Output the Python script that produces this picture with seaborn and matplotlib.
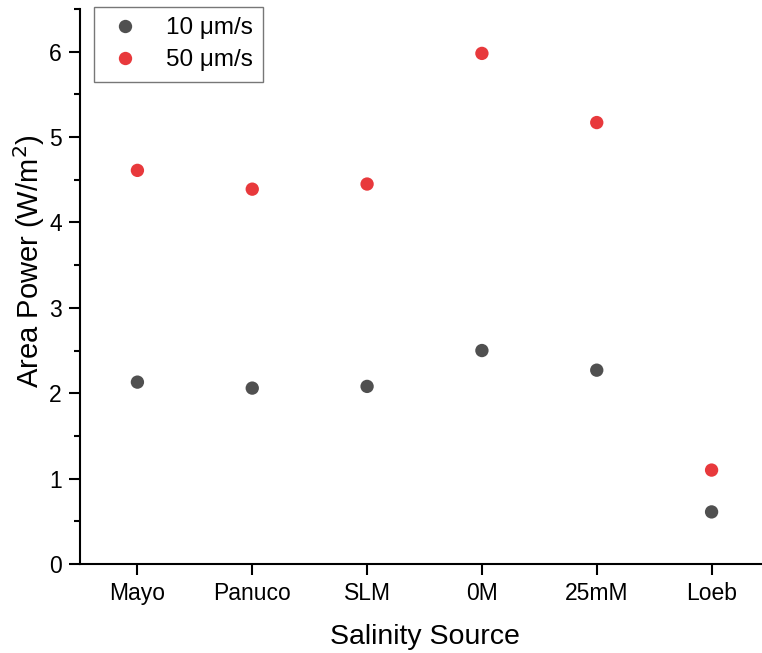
import matplotlib
matplotlib.use("Agg")
import matplotlib.pyplot as plt
from matplotlib.ticker import MultipleLocator
import seaborn as sns
import pandas as pd

# Salinity sources on the x axis
sources = ["Mayo", "Panuco", "SLM", "0M", "25mM", "Loeb"]
# Area power (W/m^2) at each flow speed
power_10 = [2.13, 2.06, 2.08, 2.50, 2.27, 0.61]
power_50 = [4.61, 4.39, 4.45, 5.98, 5.17, 1.10]
speed_labels = ["10 \u03bcm/s", "50 \u03bcm/s"]
speed_colors = ["#505050", "#e8393c"]

df = pd.DataFrame({
    "source": sources * 2,
    "power": power_10 + power_50,
    "speed": [speed_labels[0]] * len(sources) + [speed_labels[1]] * len(sources),
})

sns.set_style("ticks")
plt.rcParams["font.family"] = ["Liberation Sans", "DejaVu Sans"]
plt.rcParams["text.color"] = "black"
plt.rcParams["axes.labelcolor"] = "black"
plt.rcParams["xtick.color"] = "black"
plt.rcParams["ytick.color"] = "black"

fig = plt.figure(figsize=(7.62, 6.53), dpi=100)
ax = fig.add_axes([80 / 762, 89 / 653, 689 / 762, 555 / 653])

sns.stripplot(data=df, x="source", y="power", hue="speed", order=sources,
              hue_order=speed_labels, palette=speed_colors, jitter=False,
              dodge=False, size=9.6, linewidth=0, ax=ax, zorder=3)

ax.set_xlim(-0.5, 5.5)
ax.set_ylim(0, 6.5)
ax.yaxis.set_major_locator(MultipleLocator(1))
ax.yaxis.set_minor_locator(MultipleLocator(0.5))

for side in ("top", "right"):
    ax.spines[side].set_visible(False)
for side in ("left", "bottom"):
    ax.spines[side].set_linewidth(1.5)
    ax.spines[side].set_color("black")

ax.tick_params(axis="both", which="major", direction="out", length=8,
               width=1.5, labelsize=16.5, color="black", labelcolor="black",
               pad=5)
ax.tick_params(axis="y", which="minor", direction="out", length=4, width=1.5,
               color="black")
ax.tick_params(axis="x", which="minor", bottom=False)

ax.set_xlabel("Salinity Source", fontsize=20.5, labelpad=14, color="black")
ax.set_ylabel("Area Power (W/m$^2$)", fontsize=21, color="black")
ax.yaxis.set_label_coords(-0.048, 0.545)

leg = ax.legend(loc="upper left", bbox_to_anchor=(94 / 762, 1 - 7 / 653),
                bbox_transform=fig.transFigure, fontsize=17.5, frameon=True,
                fancybox=False, borderpad=0.42, handletextpad=0.8,
                labelspacing=0.42, borderaxespad=0, handlelength=1.73,
                markerscale=1.0)
leg.get_frame().set_edgecolor("#555555")
leg.get_frame().set_linewidth(1.0)

fig.savefig("out.png", dpi=100)
